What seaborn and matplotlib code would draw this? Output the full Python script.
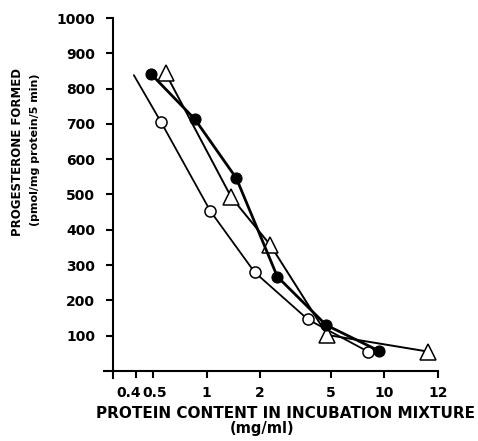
import numpy as np
import pandas as pd
import matplotlib
matplotlib.use('Agg')
import matplotlib.pyplot as plt
import matplotlib.transforms as mtransforms
import seaborn as sns

# 数据
filled_x = [0.49, 0.86, 1.47, 2.5, 4.7, 9.3]
filled_y = [840, 713, 546, 267, 130, 57]

# 空心圆: 第一个点只有线没有标记
open_x = [0.39, 0.556, 1.05, 1.86, 3.71, 8.06]
open_y = [838, 704, 453, 280, 146, 55]

tri_x = [0.589, 1.377, 2.28, 4.77, 17.5]
tri_y = [843, 492, 357, 102, 55]

xtick_pos = [0.4, 0.5, 1, 2, 5, 10, 20]
xtick_lab = ['0.4', '0.5', '1', '2', '5', '10', '12']
ytick_pos = list(range(100, 1001, 100))

sns.set_style('ticks')
plt.rcParams['font.family'] = ['DejaVu Sans']
plt.rcParams['text.color'] = 'black'
plt.rcParams['xtick.color'] = 'black'
plt.rcParams['ytick.color'] = 'black'
plt.rcParams['axes.edgecolor'] = 'black'

fig = plt.figure(figsize=(4.78, 4.41), dpi=100)
ax = fig.add_axes([104/478, 63/441, 334/478, 360/441])

sns.lineplot(x=open_x, y=open_y, ax=ax, sort=False, color='black', lw=1.3,
             marker='o', markersize=8, markerfacecolor='white',
             markeredgecolor='black', markeredgewidth=1.1, markevery=list(range(1, len(open_x))))
sns.lineplot(x=tri_x, y=tri_y, ax=ax, sort=False, color='black', lw=1.4,
             marker='^', markersize=11, markerfacecolor='white',
             markeredgecolor='black', markeredgewidth=1.1)
sns.lineplot(x=filled_x, y=filled_y, ax=ax, sort=False, color='black', lw=2.0,
             marker='o', markersize=8, markerfacecolor='black', markeredgecolor='black')

ax.set_xscale('log')
ax.set_xlim(0.265, 20)
ax.set_ylim(-20, 1000)
ax.spines['top'].set_visible(False)
ax.spines['right'].set_visible(False)
ax.spines['left'].set_position(('data', 0.296))
ax.spines['bottom'].set_position(('data', 0))
for s in ['left', 'bottom']:
    ax.spines[s].set_linewidth(1.5)

ax.set_xticks(xtick_pos)
ax.set_xticklabels(xtick_lab)
ax.xaxis.set_minor_locator(matplotlib.ticker.NullLocator())
ax.set_yticks(ytick_pos)
ax.tick_params(axis='both', direction='out', length=5, width=1.5, labelsize=10)
ax.tick_params(axis='y', pad=7.5)
ax.tick_params(axis='x', pad=6)
for lab in ax.get_xticklabels() + ax.get_yticklabels():
    lab.set_fontweight('bold')

# 0.4 和 0.5 标签挤在一起
xl = ax.get_xticklabels()
xl[0].set_transform(xl[0].get_transform() + mtransforms.ScaledTranslation(-7/100, 0, fig.dpi_scale_trans))
xl[1].set_transform(xl[1].get_transform() + mtransforms.ScaledTranslation(2/100, 0, fig.dpi_scale_trans))

ax.set_xlabel('')
ax.set_ylabel('')
fig.text(286/478, 1 - 414/441, 'PROTEIN CONTENT IN INCUBATION MIXTURE', ha='center', va='center',
         fontsize=11, fontweight='bold')
fig.text(262/478, 1 - 429/441, '(mg/ml)', ha='center', va='center',
         fontsize=10.5, fontweight='bold')
fig.text(18/478, 1 - 152/441, 'PROGESTERONE FORMED', ha='center', va='center', rotation=90,
         fontsize=8.5, fontweight='bold')
fig.text(35/478, 1 - 150/441, '(pmol/mg protein/5 min)', ha='center', va='center', rotation=90,
         fontsize=8, fontweight='bold')

plt.savefig('out.png', dpi=100)
